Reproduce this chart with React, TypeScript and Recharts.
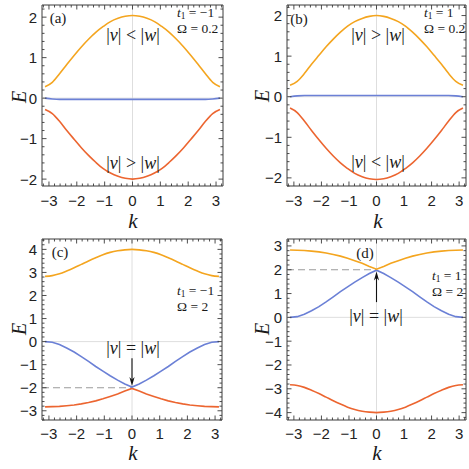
import React from "react";
import { LineChart, Line, XAxis, YAxis, ReferenceLine, ReferenceArea } from "recharts";

// k grid (step pi/12)
const K = [-3.14, -2.88, -2.62, -2.36, -2.09, -1.83, -1.57, -1.31, -1.05, -0.79, -0.52, -0.26, 0, 0.26, 0.52, 0.79, 1.05, 1.31, 1.57, 1.83, 2.09, 2.36, 2.62, 2.88, 3.14];

const X_TICKS = [-3, -2, -1, 0, 1, 2, 3];
const Y_TICKS_AB = [-2, -1, 0, 1, 2];
const Y_TICKS_C = [-3, -2, -1, 0, 1, 2, 3, 4];
const Y_TICKS_D = [-4, -3, -2, -1, 0, 1, 2, 3];

// (a) t1 = -1, Omega = 0.2
const A_UP = [0.28, 0.39, 0.6, 0.83, 1.06, 1.27, 1.46, 1.63, 1.77, 1.89, 1.97, 2.02, 2.04, 2.02, 1.97, 1.89, 1.77, 1.63, 1.46, 1.27, 1.06, 0.83, 0.6, 0.39, 0.28];
const A_MID = [0, -0.02, -0.03, -0.03, -0.03, -0.03, -0.03, -0.03, -0.03, -0.03, -0.03, -0.03, -0.03, -0.03, -0.03, -0.03, -0.03, -0.03, -0.03, -0.03, -0.03, -0.03, -0.03, -0.02, 0];
const A_LO = [-0.28, -0.38, -0.57, -0.8, -1.02, -1.23, -1.42, -1.59, -1.74, -1.85, -1.93, -1.98, -2.0, -1.98, -1.93, -1.85, -1.74, -1.59, -1.42, -1.23, -1.02, -0.8, -0.57, -0.38, -0.28];

// (b) t1 = 1, Omega = 0.2
const B_UP = [0.28, 0.38, 0.57, 0.8, 1.02, 1.23, 1.42, 1.59, 1.74, 1.85, 1.93, 1.98, 2.0, 1.98, 1.93, 1.85, 1.74, 1.59, 1.42, 1.23, 1.02, 0.8, 0.57, 0.38, 0.28];
const B_MID = [0, 0.02, 0.03, 0.03, 0.03, 0.03, 0.03, 0.03, 0.03, 0.03, 0.03, 0.03, 0.03, 0.03, 0.03, 0.03, 0.03, 0.03, 0.03, 0.03, 0.03, 0.03, 0.03, 0.02, 0];
const B_LO = [-0.28, -0.39, -0.6, -0.83, -1.06, -1.27, -1.46, -1.63, -1.77, -1.89, -1.97, -2.02, -2.04, -2.02, -1.97, -1.89, -1.77, -1.63, -1.46, -1.27, -1.06, -0.83, -0.6, -0.39, -0.28];

// (c) t1 = -1, Omega = 2
const C_UP = [2.83, 2.86, 2.94, 3.06, 3.2, 3.35, 3.5, 3.64, 3.77, 3.87, 3.94, 3.98, 4.0, 3.98, 3.94, 3.87, 3.77, 3.64, 3.5, 3.35, 3.2, 3.06, 2.94, 2.86, 2.83];
const C_MID = [0, -0.03, -0.13, -0.28, -0.45, -0.65, -0.86, -1.08, -1.28, -1.48, -1.67, -1.84, -1.97, -1.84, -1.67, -1.48, -1.28, -1.08, -0.86, -0.65, -0.45, -0.28, -0.13, -0.03, 0];
const C_LO = [-2.83, -2.82, -2.81, -2.78, -2.75, -2.7, -2.64, -2.57, -2.48, -2.38, -2.27, -2.14, -2.03, -2.14, -2.27, -2.38, -2.48, -2.57, -2.64, -2.7, -2.75, -2.78, -2.81, -2.82, -2.83];

// (d) t1 = 1, Omega = 2
const D_UP = [2.83, 2.82, 2.81, 2.78, 2.75, 2.7, 2.64, 2.57, 2.48, 2.38, 2.27, 2.14, 2.02, 2.14, 2.27, 2.38, 2.48, 2.57, 2.64, 2.7, 2.75, 2.78, 2.81, 2.82, 2.83];
const D_MID = [0, 0.03, 0.13, 0.28, 0.45, 0.65, 0.86, 1.08, 1.28, 1.48, 1.67, 1.84, 1.98, 1.84, 1.67, 1.48, 1.28, 1.08, 0.86, 0.65, 0.45, 0.28, 0.13, 0.03, 0];
const D_LO = [-2.83, -2.86, -2.94, -3.06, -3.2, -3.35, -3.5, -3.64, -3.77, -3.87, -3.94, -3.98, -4.0, -3.98, -3.94, -3.87, -3.77, -3.64, -3.5, -3.35, -3.2, -3.06, -2.94, -2.86, -2.83];

const ORANGE = "#F4A51F";
const RED = "#EC6530";
const BLUE = "#6B80D6";
const FRAME = "#3a3a3a";
const X_DOMAIN: [number, number] = [-3.25, 3.25];

const YW = 40;
const XH = 30;
const MT = 4;
const MR = 2;

// minor tick positions every 0.2 inside a range
const fineTicks = (lo: number, hi: number) => {
  const out: number[] = [];
  for (let i = Math.ceil(lo * 5 - 1e-9); i <= Math.floor(hi * 5 + 1e-9); i++) out.push(Math.round(i * 20) / 100);
  return out;
};

const fmt = (v: number) => (v < 0 ? "\u2212" + Math.abs(v) : String(v));
const isMajor = (v: number) => Math.abs(v - Math.round(v)) < 1e-6;

const Arrow = (p: any) => {
  const { x1, y1, x2, y2 } = p;
  const dir = y2 > y1 ? 1 : -1;
  const hl = 9;
  const hw = 2.6;
  return (
    <g>
      <line x1={x1} y1={y1} x2={x2} y2={y2 - dir * hl * 0.6} stroke="#111" strokeWidth={1.1} />
      <path d={`M${x2},${y2} L${x2 - hw},${y2 - dir * hl} L${x2},${y2 - dir * hl * 0.7} L${x2 + hw},${y2 - dir * hl} Z`} fill="#111" />
    </g>
  );
};

interface PanelProps {
  left: number;
  top: number;
  pw: number;
  ph: number;
  yDomain: [number, number];
  yTicks: number[];
  up: number[];
  mid: number[];
  lo: number[];
  upType?: "monotone" | "linear";
  midType?: "monotone" | "linear";
  loType?: "monotone" | "linear";
  labelGap?: number;
  dashY?: number;
  arrow?: [number, number];
}

function Panel(props: PanelProps) {
  const { left, top, pw, ph, yDomain, yTicks, up, mid, lo, labelGap = 14 } = props;
  const data = K.map((k, i) => ({ k, up: up[i], mid: mid[i], lo: lo[i] }));
  const plotTop = MT;
  const plotBottom = MT + ph;
  const plotLeft = YW;
  const plotRight = YW + pw;

  const xTick = (p: any) => {
    const v = p.payload.value;
    const major = isMajor(v);
    const len = major ? 4.5 : 2.5;
    return (
      <g>
        <line x1={p.x} x2={p.x} y1={plotBottom} y2={plotBottom - len} stroke={FRAME} strokeWidth={0.9} />
        <line x1={p.x} x2={p.x} y1={plotTop} y2={plotTop + len} stroke={FRAME} strokeWidth={0.9} />
        {major && X_TICKS.includes(Math.round(v)) && (
          <text x={p.x} y={plotBottom + labelGap} textAnchor="middle" dominantBaseline="central" fontFamily="Liberation Sans" fontSize={15} fill="#222">
            {fmt(Math.round(v))}
          </text>
        )}
      </g>
    );
  };

  const yTick = (p: any) => {
    const v = p.payload.value;
    const major = isMajor(v);
    const len = major ? 4.5 : 2.5;
    return (
      <g>
        <line x1={plotLeft} x2={plotLeft + len} y1={p.y} y2={p.y} stroke={FRAME} strokeWidth={0.9} />
        <line x1={plotRight} x2={plotRight - len} y1={p.y} y2={p.y} stroke={FRAME} strokeWidth={0.9} />
        {major && yTicks.includes(Math.round(v)) && (
          <text x={plotLeft - 5} y={p.y} textAnchor="end" dominantBaseline="central" fontFamily="Liberation Sans" fontSize={15} fill="#222">
            {fmt(Math.round(v))}
          </text>
        )}
      </g>
    );
  };

  return (
    <div style={{ position: "absolute", left: left - YW, top: top - MT }}>
      <LineChart width={YW + pw + MR} height={MT + ph + XH} data={data} margin={{ top: MT, right: MR, bottom: 0, left: 0 }}>
        <XAxis
          dataKey="k"
          type="number"
          domain={X_DOMAIN}
          allowDataOverflow
          ticks={fineTicks(X_DOMAIN[0], X_DOMAIN[1])}
          interval={0}
          tick={xTick}
          tickLine={false}
          axisLine={false}
          tickSize={0}
          tickMargin={0}
          height={XH}
        />
        <YAxis
          type="number"
          domain={yDomain}
          allowDataOverflow
          ticks={fineTicks(yDomain[0], yDomain[1])}
          interval={0}
          tick={yTick}
          tickLine={false}
          axisLine={false}
          tickSize={0}
          tickMargin={0}
          width={YW}
        />
        <ReferenceLine x={0} stroke="#dedede" strokeWidth={1} />
        <ReferenceLine y={0} stroke="#dedede" strokeWidth={1} />
        {props.dashY !== undefined && (
          <ReferenceLine
            segment={[{ x: X_DOMAIN[0], y: props.dashY }, { x: 0, y: props.dashY }]}
            stroke="#9a9a9a"
            strokeWidth={1.1}
            strokeDasharray="7 4"
            ifOverflow="visible"
          />
        )}
        <Line type={props.loType || "monotone"} dataKey="lo" stroke={RED} strokeWidth={1.6} dot={false} isAnimationActive={false} />
        <Line type={props.midType || "monotone"} dataKey="mid" stroke={BLUE} strokeWidth={1.6} dot={false} isAnimationActive={false} />
        <Line type={props.upType || "monotone"} dataKey="up" stroke={ORANGE} strokeWidth={1.6} dot={false} isAnimationActive={false} />
        {props.arrow && (
          <ReferenceLine
            segment={[{ x: 0, y: props.arrow[0] }, { x: 0, y: props.arrow[1] }]}
            shape={Arrow}
            ifOverflow="visible"
          />
        )}
        <ReferenceArea x1={X_DOMAIN[0]} x2={X_DOMAIN[1]} y1={yDomain[0]} y2={yDomain[1]} fill="none" stroke={FRAME} strokeWidth={1} ifOverflow="visible" />
      </LineChart>
    </div>
  );
}

const serif = "'Liberation Serif', 'DejaVu Serif', serif";

const Txt = ({ x, y, size, children, anchor = "center", rotate = false }: any) => (
  <div
    style={{
      position: "absolute",
      left: x,
      top: y,
      transform: `translate(${anchor === "left" ? "0" : "-50%"}, -50%)${rotate ? " rotate(-90deg)" : ""}`,
      fontFamily: serif,
      fontSize: size,
      lineHeight: 1,
      whiteSpace: "nowrap",
      color: "#1a1a1a",
    }}
  >
    {children}
  </div>
);

const Rel = ({ op }: { op: string }) => (
  <span>
    |<i>v</i>| {op} |<i>w</i>|
  </span>
);

const T1 = ({ v }: { v: string }) => (
  <span>
    <i>t</i>
    <span style={{ fontSize: "0.7em", position: "relative", top: "0.2em" }}>1</span> = {v}
  </span>
);

export default function App() {
  return (
    <div style={{ position: "absolute", left: 0, top: 0, width: 469, height: 469, background: "#fff", overflow: "hidden" }}>
      <Panel left={42} top={5} pw={181} ph={181} yDomain={[-2.17, 2.3]} yTicks={Y_TICKS_AB} up={A_UP} mid={A_MID} lo={A_LO} />
      <Panel left={287} top={5} pw={179} ph={181} yDomain={[-2.2, 2.26]} yTicks={Y_TICKS_AB} up={B_UP} mid={B_MID} lo={B_LO} />
      <Panel
        left={42}
        top={239}
        pw={180}
        ph={181}
        yDomain={[-3.4, 4.45]}
        yTicks={Y_TICKS_C}
        up={C_UP}
        mid={C_MID}
        lo={C_LO}
        midType="linear"
        loType="linear"
        labelGap={13}
        dashY={-2}
        arrow={[-0.72, -1.93]}
      />
      <Panel
        left={287}
        top={239}
        pw={179}
        ph={181}
        yDomain={[-4.31, 3.29]}
        yTicks={Y_TICKS_D}
        up={D_UP}
        mid={D_MID}
        lo={D_LO}
        upType="linear"
        midType="linear"
        labelGap={13}
        dashY={2}
        arrow={[0.64, 1.93]}
      />

      {/* axis labels */}
      <Txt x={19} y={97} size={20} rotate><i>E</i></Txt>
      <Txt x={262} y={96} size={20} rotate><i>E</i></Txt>
      <Txt x={19} y={329} size={20} rotate><i>E</i></Txt>
      <Txt x={262} y={329} size={20} rotate><i>E</i></Txt>
      <Txt x={133} y={221} size={21}><i>k</i></Txt>
      <Txt x={378} y={221} size={21}><i>k</i></Txt>
      <Txt x={133} y={453} size={21}><i>k</i></Txt>
      <Txt x={377} y={453} size={21}><i>k</i></Txt>

      {/* panel (a) */}
      <Txt x={58} y={18} size={15}>(a)</Txt>
      <Txt x={177} y={13} size={13.5} anchor="left"><T1 v={"\u22121"} /></Txt>
      <Txt x={177} y={29} size={13.5} anchor="left">{"\u03A9 = 0.2"}</Txt>
      <Txt x={133} y={35} size={18}><Rel op="<" /></Txt>
      <Txt x={133} y={163} size={18}><Rel op=">" /></Txt>

      {/* panel (b) */}
      <Txt x={299} y={19} size={15}>(b)</Txt>
      <Txt x={424} y={13} size={13.5} anchor="left"><T1 v="1" /></Txt>
      <Txt x={424} y={29} size={13.5} anchor="left">{"\u03A9 = 0.2"}</Txt>
      <Txt x={378} y={35} size={18}><Rel op=">" /></Txt>
      <Txt x={378} y={162} size={18}><Rel op="<" /></Txt>

      {/* panel (c) */}
      <Txt x={60} y={252} size={15}>(c)</Txt>
      <Txt x={177} y={291} size={13.5} anchor="left"><T1 v={"\u22121"} /></Txt>
      <Txt x={177} y={307} size={13.5} anchor="left">{"\u03A9 = 2"}</Txt>
      <Txt x={133} y={348} size={18}><Rel op="=" /></Txt>

      {/* panel (d) */}
      <Txt x={365} y={253} size={15}>(d)</Txt>
      <Txt x={432} y={276} size={13.5} anchor="left"><T1 v="1" /></Txt>
      <Txt x={432} y={292} size={13.5} anchor="left">{"\u03A9 = 2"}</Txt>
      <Txt x={376} y={316} size={18}><Rel op="=" /></Txt>
    </div>
  );
}
